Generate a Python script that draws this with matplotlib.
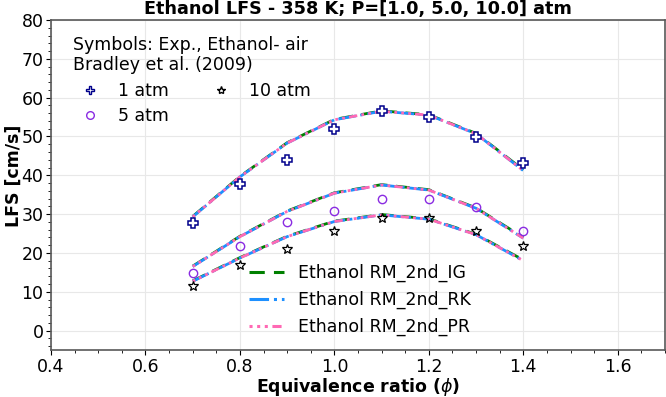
import matplotlib
matplotlib.use('Agg')
import matplotlib.pyplot as plt
from matplotlib.ticker import AutoMinorLocator
from matplotlib.lines import Line2D

# equivalence ratio
phi = [0.7, 0.8, 0.9, 1.0, 1.1, 1.2, 1.3, 1.4]

# Bradley et al. (2009) experiments
exp_1atm = [27.8, 37.7, 44.0, 51.9, 56.5, 55.1, 49.9, 43.1]
exp_5atm = [14.8, 21.8, 28.0, 30.9, 33.9, 33.9, 31.9, 25.7]
exp_10atm = [11.4, 16.9, 21.1, 25.7, 29.1, 29.1, 25.7, 21.8]

# model results (IG / RK / PR)
ig_1atm = [29.4, 39.7, 48.4, 54.4, 56.6, 55.6, 50.8, 41.4]
rk_1atm = [29.3, 39.6, 48.3, 54.3, 56.5, 55.5, 50.7, 41.2]
pr_1atm = [29.3, 39.6, 48.3, 54.3, 56.5, 55.5, 50.7, 41.2]
ig_5atm = [16.6, 24.3, 30.8, 35.5, 37.6, 36.3, 31.6, 24.0]
rk_5atm = [16.5, 24.2, 30.7, 35.4, 37.5, 36.2, 31.5, 23.8]
pr_5atm = [16.5, 24.2, 30.7, 35.4, 37.5, 36.2, 31.5, 23.8]
ig_10atm = [12.8, 18.8, 24.3, 28.2, 29.9, 28.8, 24.8, 18.2]
rk_10atm = [12.7, 18.7, 24.2, 28.1, 29.8, 28.7, 24.7, 18.0]
pr_10atm = [12.7, 18.7, 24.2, 28.1, 29.8, 28.7, 24.7, 18.0]

plt.rcParams['font.family'] = 'DejaVu Sans'

fig = plt.figure(figsize=(6.66, 3.97), dpi=100)
ax = fig.add_axes([0.0766, 0.1184, 0.9219, 0.8312])

lw = 2.0
pr_dash = (0, (1, 1.5, 1, 1.5, 1, 1.5, 3, 1.5))
for ig, rk, pr in [(ig_1atm, rk_1atm, pr_1atm), (ig_5atm, rk_5atm, pr_5atm),
                   (ig_10atm, rk_10atm, pr_10atm)]:
    ax.plot(phi, ig, color='green', ls=(0, (5, 3)), lw=lw)
    ax.plot(phi, rk, color='dodgerblue', ls='-.', lw=lw)
    ax.plot(phi, pr, color='hotpink', ls=pr_dash, lw=lw)

ax.plot(phi, exp_1atm, 'P', ms=7, mfc='white', mec='darkblue', mew=1.1, ls='none')
ax.plot(phi, exp_5atm, 'o', ms=6, mfc='none', mec='blueviolet', mew=1.0, ls='none')
ax.plot(phi, exp_10atm, '*', ms=7, mfc='none', mec='black', mew=0.9, ls='none')

ax.set_xlim(0.4, 1.7)
ax.set_ylim(-5, 80)
ax.set_xticks([0.4, 0.6, 0.8, 1.0, 1.2, 1.4, 1.6])
ax.set_yticks(range(0, 81, 10))
ax.xaxis.set_minor_locator(AutoMinorLocator())
ax.yaxis.set_minor_locator(AutoMinorLocator())
ax.tick_params(labelsize=12.5, pad=2)
ax.grid(True, color='#e8e8e8', lw=0.8)
ax.set_axisbelow(True)
for s in ax.spines.values():
    s.set_color('0.35')
    s.set_linewidth(1.2)

ax.set_xlabel(r'Equivalence ratio ($\phi$)', fontsize=12.5, fontweight='bold')
ax.set_ylabel('LFS [cm/s]', fontsize=12.5, fontweight='bold')
ax.xaxis.set_label_coords(0.5, -0.08)
ax.yaxis.set_label_coords(-0.046, 0.527)
ax.set_title('Ethanol LFS - 358 K; P=[1.0, 5.0, 10.0] atm', fontsize=12.7,
             fontweight='bold', pad=4)

# symbol legend
sym = [Line2D([], [], marker='P', ms=6, mfc='white', mec='darkblue', ls='none'),
       Line2D([], [], marker='o', ms=5.5, mfc='none', mec='blueviolet', ls='none'),
       Line2D([], [], marker='*', ms=6, mfc='none', mec='black', ls='none')]
leg1 = ax.legend(sym, ['1 atm', '5 atm', '10 atm'], ncol=2, frameon=False,
                 loc='upper left', bbox_to_anchor=(0.01, 1.0), fontsize=12.5,
                 title='Symbols: Exp., Ethanol- air\nBradley et al. (2009)',
                 title_fontsize=12.5, alignment='left', handletextpad=0.6,
                 columnspacing=2.0, labelspacing=0.42)
ax.add_artist(leg1)

# model legend
mod = [Line2D([], [], color='green', ls=(0, (5, 3)), lw=2.2),
       Line2D([], [], color='dodgerblue', ls='-.', lw=2.2),
       Line2D([], [], color='hotpink', ls=pr_dash, lw=2.2)]
ax.legend(mod, ['Ethanol RM_2nd_IG', 'Ethanol RM_2nd_RK', 'Ethanol RM_2nd_PR'],
          frameon=False, loc='lower left', bbox_to_anchor=(0.297, -0.005),
          fontsize=12.5, handlelength=2.0, handletextpad=0.8, labelspacing=0.5)

fig.savefig('out.png', dpi=100)
